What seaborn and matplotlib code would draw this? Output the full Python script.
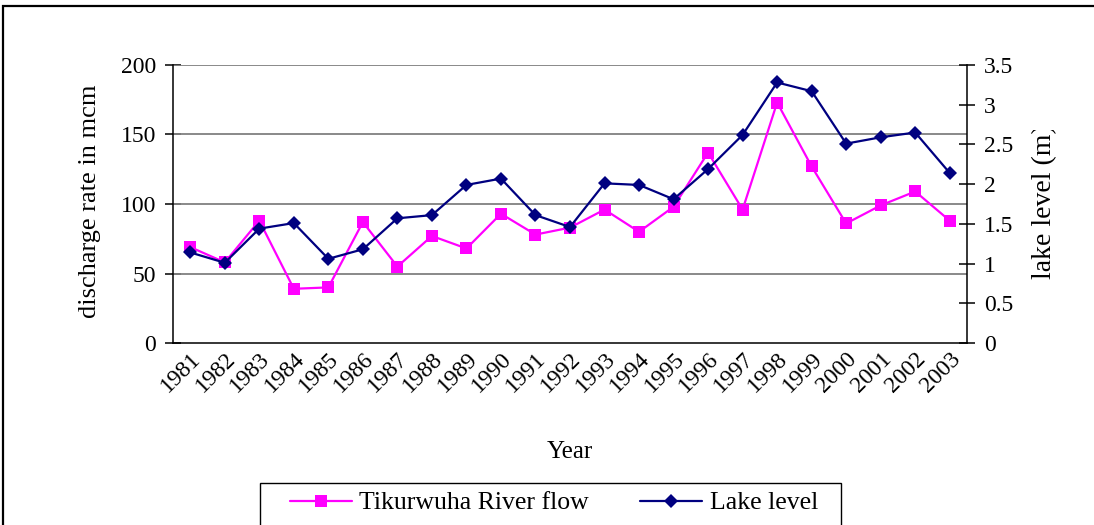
import numpy as np
import pandas as pd
import matplotlib
matplotlib.use("Agg")
import matplotlib.pyplot as plt
from matplotlib.patches import Rectangle
from matplotlib.lines import Line2D
from matplotlib.transforms import Bbox, TransformedBbox
import seaborn as sns

# Annual series, 1981-2003
years = [str(y) for y in range(1981, 2004)]
river_flow = [69, 58, 88, 39, 40, 87, 55, 77, 68, 93, 78, 83,
              96, 80, 98, 137, 96, 173, 127, 86, 99, 109, 88]
lake_level = [1.14, 1.01, 1.44, 1.51, 1.06, 1.18, 1.57, 1.61, 1.99, 2.07,
              1.61, 1.46, 2.01, 1.99, 1.81, 2.19, 2.62, 3.28, 3.17, 2.51,
              2.59, 2.65, 2.14]
left_ticks = [0, 50, 100, 150, 200]
right_ticks = [0, 0.5, 1, 1.5, 2, 2.5, 3, 3.5]

flow_label = "Tikurwuha River flow"
lake_label = "Lake level"

MAGENTA = "#FF00FF"
NAVY = "#000080"
GRID = "#808080"

sns.set_theme(style="white")
plt.rcParams["font.family"] = ["Liberation Serif", "DejaVu Serif"]
plt.rcParams.update({
    "axes.edgecolor": "black",
    "text.color": "black",
    "axes.labelcolor": "black",
    "xtick.color": "black",
    "ytick.color": "black",
})

W, H = 1094, 525
fig = plt.figure(figsize=(W / 100, H / 100), dpi=100)
fig.patch.set_facecolor("white")


def fx(px):
    return px / W


def fy(py):
    return 1 - py / H


ax = fig.add_axes([fx(173), fy(343), fx(967) - fx(173), fy(65) - fy(343)])
ax2 = ax.twinx()

df = pd.DataFrame({"pos": np.arange(len(years)), "year": years,
                   "flow": river_flow, "lake": lake_level})

sns.lineplot(data=df, x="pos", y="flow", ax=ax, color=MAGENTA, lw=1.6,
             marker="s", markersize=8.5, markeredgewidth=0,
             markerfacecolor=MAGENTA, zorder=3)
sns.lineplot(data=df, x="pos", y="lake", ax=ax2, color=NAVY, lw=1.6,
             marker="D", markersize=7, markeredgewidth=0,
             markerfacecolor=NAVY, zorder=3)

# Horizontal gridlines on the discharge scale
for v in left_ticks[1:]:
    ax.axhline(v, color=GRID, lw=1.3, zorder=1)

n = len(years)
ax.set_xlim(-0.5, n - 0.5)
ax.set_ylim(left_ticks[0], left_ticks[-1])
ax2.set_ylim(right_ticks[0], right_ticks[-1])

# Category boundaries carry the tick marks, centres carry the labels
ax.set_xticks(np.arange(n + 1) - 0.5)
ax.set_xticklabels([])
ax.set_xticks(np.arange(n), minor=True)
ax.set_xticklabels(years, minor=True, rotation=45, ha="right", va="top",
                   rotation_mode="anchor", fontsize=17)
ax.tick_params(axis="x", which="major", direction="inout", length=15,
               width=1.1, color="black")
ax.tick_params(axis="x", which="minor", length=0, pad=4)

ax.set_yticks(left_ticks)
ax.set_yticklabels([str(v) for v in left_ticks], fontsize=17)
ax.tick_params(axis="y", direction="inout", length=12, width=1.1,
               color="black", pad=6, left=True)
ax2.set_yticks(right_ticks)
ax2.set_yticklabels([f"{v:g}" for v in right_ticks], fontsize=17)
ax2.tick_params(axis="y", direction="inout", length=12, width=1.1,
                color="black", pad=6, right=True)

for a in (ax, ax2):
    a.grid(False)
    a.spines["top"].set_visible(False)
    for s in ("left", "right", "bottom"):
        a.spines[s].set_color("black")
        a.spines[s].set_linewidth(1.1)
ax2.spines["left"].set_visible(False)
ax2.spines["bottom"].set_visible(False)
ax.spines["right"].set_visible(False)

ax.set_xlabel("Year", fontsize=18, labelpad=0)
ax.xaxis.set_label_coords(0.5, -(452 - 343) / 278, transform=ax.transAxes)
ax.xaxis.label.set_va("center")
ax.set_ylabel("discharge rate in mcm", fontsize=19)
ax.yaxis.set_label_coords((101 - 173) / 794, (343 - 201) / 278)
ax2.set_ylabel("lake level (m)", fontsize=20)
ax2.yaxis.set_label_coords((1032 - 173) / 794, (343 - 202) / 278)
# the right-hand title runs into the chart's top margin and is cut there
ax2.yaxis.label.set_clip_box(
    TransformedBbox(Bbox([[0, 0], [1, fy(130)]]), fig.transFigure))
ax2.yaxis.label.set_clip_on(True)

# Outer chart frame (extends past the lower/right edges of the canvas)
fig.add_artist(Rectangle((fx(3), -0.2), 1.2, fy(6) + 0.2, transform=fig.transFigure,
                         fill=False, edgecolor="black", lw=1.6, zorder=0))

# Legend box and entries
fig.add_artist(Rectangle((fx(260), -0.2), fx(841) - fx(260), fy(483) + 0.2,
                         transform=fig.transFigure, fill=False,
                         edgecolor="black", lw=1.0))
handles = [
    Line2D([], [], color=MAGENTA, lw=1.6, marker="s", markersize=8.5,
           markeredgewidth=0),
    Line2D([], [], color=NAVY, lw=1.6, marker="D", markersize=7,
           markeredgewidth=0),
]
leg = fig.legend(handles, [flow_label, lake_label], loc="center left",
                 bbox_to_anchor=(fx(290), fy(503), fx(818) - fx(290), 0),
                 mode="expand", ncol=2, frameon=False, fontsize=18.5,
                 handlelength=2.4, handletextpad=0.3, borderpad=0,
                 borderaxespad=0)

fig.savefig("out.png", dpi=100, facecolor="white")
